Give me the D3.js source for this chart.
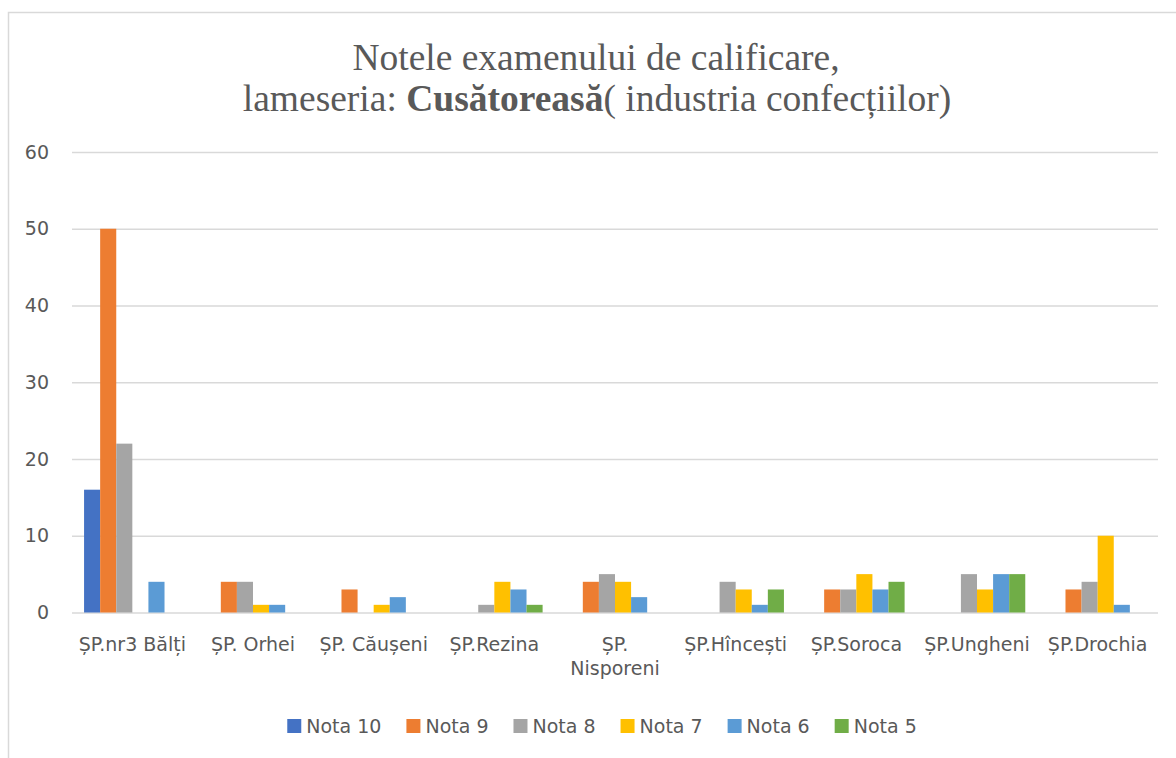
<!DOCTYPE html>
<html>
<head>
  <meta charset="utf-8">
  <script src="https://d3js.org/d3.v7.min.js"></script>
<style>
  body {
    margin: 0;
    background: #fff;
  }
  text {
    font-family: "DejaVu Sans", sans-serif;
    fill: #595959;
  }
  .title text, text.title {
    font-family: "Liberation Serif", "Times New Roman", serif;
  }
</style>
</head>
<body>
<script type="text/javascript">
  // categories (schools) and the six grade series
  var categories = ["ȘP.nr3 Bălți", "ȘP. Orhei", "ȘP. Căușeni", "ȘP.Rezina",
                    "ȘP. Nisporeni", "ȘP.Hîncești", "ȘP.Soroca", "ȘP.Ungheni", "ȘP.Drochia"];
  var seriesNames = ["Nota 10", "Nota 9", "Nota 8", "Nota 7", "Nota 6", "Nota 5"];

  var nota10 = [16, 0, 0, 0, 0, 0, 0, 0, 0];
  var nota9  = [50, 4, 3, 0, 4, 0, 3, 0, 3];
  var nota8  = [22, 4, 0, 1, 5, 4, 3, 5, 4];
  var nota7  = [0, 1, 1, 4, 4, 3, 5, 3, 10];
  var nota6  = [4, 1, 2, 3, 2, 1, 3, 5, 1];
  var nota5  = [0, 0, 0, 1, 0, 3, 4, 5, 0];

  var yTicks = [0, 10, 20, 30, 40, 50, 60];

  var seriesValues = [nota10, nota9, nota8, nota7, nota6, nota5];
  var colors = ["#4472C4", "#ED7D31", "#A5A5A5", "#FFC000", "#5B9BD5", "#70AD47"];

  var width = 1176, height = 758;
  var plot = {left: 72, right: 1158, top: 152, bottom: 612.5};

  var svg = d3.select("body")
    .append("svg")
      .attr("width", width)
      .attr("height", height);

  // chart frame (runs off the right / bottom of the picture)
  svg.append("rect")
    .attr("x", 8.5).attr("y", 12.5)
    .attr("width", 1250).attr("height", 900)
    .attr("fill", "#fff")
    .attr("stroke", "#d9d9d9")
    .attr("stroke-width", 1.5);

  // title
  var title = svg.append("text")
    .attr("class", "title")
    .attr("text-anchor", "middle")
    .style("font-size", "37.5px");
  title.append("tspan").attr("x", 596).attr("y", 70)
    .text("Notele examenului de calificare,");
  var line2 = title.append("tspan").attr("x", 597).attr("y", 111);
  line2.append("tspan").text("lameseria: ");
  line2.append("tspan").style("font-weight", "bold").text("Cusătoreasă");
  line2.append("tspan").text("( industria confecțiilor)");

  // scales
  var x0 = d3.scaleBand()
    .domain(categories)
    .range([plot.left, plot.right])
    .padding(0);

  // Excel style gap width 150%
  var x1 = d3.scaleBand()
    .domain(seriesNames)
    .range([0, x0.bandwidth()])
    .paddingInner(0)
    .paddingOuter(0.75);

  var y = d3.scaleLinear()
    .domain([0, 60])
    .range([plot.bottom, plot.top]);

  // y axis with gridlines
  var yAxis = svg.append("g")
    .attr("transform", "translate(" + plot.left + ",0)")
    .call(d3.axisLeft(y)
      .tickValues(yTicks)
      .tickSize(-(plot.right - plot.left))
      .tickPadding(23));
  yAxis.select(".domain").remove();
  yAxis.selectAll("line")
    .attr("stroke", "#d9d9d9")
    .attr("stroke-width", 1.5);
  yAxis.selectAll("text")
    .style("font-size", "19px")
    .attr("fill", "#595959");

  // bars
  var groups = svg.append("g").selectAll("g")
    .data(categories)
    .enter().append("g")
      .attr("transform", function (d) { return "translate(" + x0(d) + ",0)"; });

  groups.selectAll("rect")
    .data(function (d, i) {
      return seriesNames.map(function (s, j) {
        return {series: s, value: seriesValues[j][i], color: colors[j]};
      });
    })
    .enter().append("rect")
      .attr("x", function (d) { return x1(d.series); })
      .attr("y", function (d) { return y(d.value); })
      .attr("width", x1.bandwidth())
      .attr("height", function (d) { return y(0) - y(d.value); })
      .attr("fill", function (d) { return d.color; });

  // x axis labels
  var xAxis = svg.append("g")
    .attr("transform", "translate(0," + plot.bottom + ")")
    .call(d3.axisBottom(x0).tickSize(0).tickPadding(25.5));
  xAxis.select(".domain").remove();
  xAxis.selectAll("text")
    .style("font-size", "19px")
    .attr("fill", "#595959")
    .call(wrap, x0.step());

  // wrap labels that are wider than the category slot
  function wrap(sel, w) {
    sel.each(function () {
      var t = d3.select(this);
      if (this.getComputedTextLength() <= w) return;
      var words = t.text().split(/\s+/);
      var dy = t.attr("dy");
      t.text(null);
      words.forEach(function (word, i) {
        t.append("tspan")
          .attr("x", 0)
          .attr("dy", i === 0 ? dy : "1.25em")
          .text(word);
      });
    });
  }

  // legend
  var legend = svg.append("g");
  var lx = 0;
  seriesNames.forEach(function (s, i) {
    var item = legend.append("g").attr("transform", "translate(" + lx + ",0)");
    item.append("rect")
      .attr("x", 0).attr("y", 719)
      .attr("width", 14).attr("height", 14)
      .attr("fill", colors[i]);
    var t = item.append("text")
      .attr("x", 19).attr("y", 732.5)
      .style("font-size", "19px")
      .text(s);
    lx += 19 + t.node().getComputedTextLength() + 25;
  });
  lx -= 25;
  legend.attr("transform", "translate(" + (602 - lx / 2) + ",0)");
</script>
</body>
</html>
